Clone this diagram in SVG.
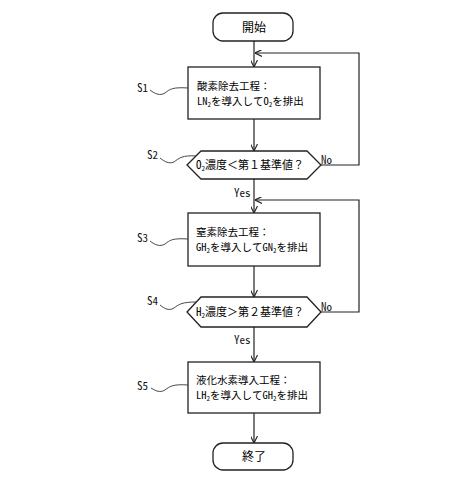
<svg xmlns="http://www.w3.org/2000/svg" width="460" height="500" viewBox="0 0 460 500">
<style>
.shape{fill:#fff;stroke:#222;stroke-width:1.3}
.line{fill:none;stroke:#222;stroke-width:1.2}
.sq{fill:none;stroke:#333;stroke-width:0.9}
.jp{font-family:"Noto Sans Mono CJK JP","Noto Sans CJK JP",monospace;font-size:10.5px;fill:#000}
.hx{font-family:"Noto Sans Mono CJK JP","Noto Sans CJK JP",monospace;font-size:11px;fill:#000}
.tm{font-family:"Noto Sans Mono CJK JP","Noto Sans CJK JP",monospace;font-size:12px;fill:#000}
.sub{font-size:7px}
.lab{font-family:"Noto Sans Mono CJK JP","Noto Sans CJK JP",monospace;font-size:11px;fill:#111}
</style>
<defs>
<marker id="ah" viewBox="0 0 10 10" refX="10" refY="5" markerWidth="7" markerHeight="7" orient="auto" markerUnits="userSpaceOnUse">
<path d="M0,0 L10,5 L0,10" fill="none" stroke="#222" stroke-width="1.6"/>
</marker>
</defs>
<rect width="460" height="500" fill="#fff"/>
<g id="connectors">
<line class="line" x1="254" y1="41" x2="254" y2="67" marker-end="url(#ah)"/>
<line class="line" x1="254" y1="119" x2="254" y2="151" marker-end="url(#ah)"/>
<line class="line" x1="254" y1="179" x2="254" y2="213" marker-end="url(#ah)"/>
<line class="line" x1="254" y1="266" x2="254" y2="297" marker-end="url(#ah)"/>
<line class="line" x1="254" y1="327" x2="254" y2="362" marker-end="url(#ah)"/>
<line class="line" x1="254" y1="413" x2="254" y2="443" marker-end="url(#ah)"/>
<polyline class="line" points="321,165 359,165 359,53 255,53" marker-end="url(#ah)"/>
<polyline class="line" points="321,312 359,312 359,200 255,200" marker-end="url(#ah)"/>
<text class="lab" x="234" y="197">Yes</text>
<text class="lab" x="234" y="344">Yes</text>
<text class="lab" x="321" y="164">No</text>
<text class="lab" x="321" y="311">No</text>
</g>
<g id="start">
<rect class="shape" x="213" y="13" width="80" height="28" rx="10"/>
<text class="tm" x="254" y="31.5" text-anchor="middle">開始</text>
</g>
<g id="s1">
<rect class="shape" x="188" y="67" width="132" height="52"/>
<text class="jp" x="197" y="89.5">酸素除去工程：</text>
<text class="jp" x="197" y="105.1">LN<tspan class="sub" dy="2">2</tspan><tspan dy="-2">を導入して</tspan>O<tspan class="sub" dy="2">2</tspan><tspan dy="-2">を排出</tspan></text>
<text class="lab" x="137" y="92">S1</text>
<path class="sq" d="M150,90 C155,94 160,96 165,93 C170,89 173,87 188,88"/>
</g>
<g id="s2">
<polygon class="shape" points="187,165 201,151 307,151 321,165 307,179 201,179"/>
<text class="hx" x="196" y="169">O<tspan class="sub" dy="2">2</tspan><tspan dy="-2">濃度＜第１基準値？</tspan></text>
<text class="lab" x="147" y="159">S2</text>
<path class="sq" d="M160,158 C165,162 169,164 174,162 C179,158 183,155 196,156"/>
</g>
<g id="s3">
<rect class="shape" x="188" y="213" width="132" height="53"/>
<text class="jp" x="196" y="235.7">窒素除去工程：</text>
<text class="jp" x="196" y="251.3">GH<tspan class="sub" dy="2">2</tspan><tspan dy="-2">を導入して</tspan>GN<tspan class="sub" dy="2">2</tspan><tspan dy="-2">を排出</tspan></text>
<text class="lab" x="137" y="242">S3</text>
<path class="sq" d="M150,241 C155,245 160,247 165,244 C170,240 173,238 188,239"/>
</g>
<g id="s4">
<polygon class="shape" points="187,312 201,297 307,297 321,312 307,327 201,327"/>
<text class="hx" x="196" y="316">H<tspan class="sub" dy="2">2</tspan><tspan dy="-2">濃度＞第２基準値？</tspan></text>
<text class="lab" x="147" y="305">S4</text>
<path class="sq" d="M160,305 C165,309 169,311 174,308 C179,304 183,302 196,302"/>
</g>
<g id="s5">
<rect class="shape" x="188" y="362" width="132" height="51"/>
<text class="jp" x="196" y="383.7">液化水素導入工程：</text>
<text class="jp" x="196" y="399.3">LH<tspan class="sub" dy="2">2</tspan><tspan dy="-2">を導入して</tspan>GH<tspan class="sub" dy="2">2</tspan><tspan dy="-2">を排出</tspan></text>
<text class="lab" x="137" y="390">S5</text>
<path class="sq" d="M151,388 C156,391 160,393 165,390 C170,386 174,384 188,385"/>
</g>
<g id="end">
<rect class="shape" x="213" y="443" width="80" height="27" rx="10"/>
<text class="tm" x="254" y="461" text-anchor="middle">終了</text>
</g>
</svg>
